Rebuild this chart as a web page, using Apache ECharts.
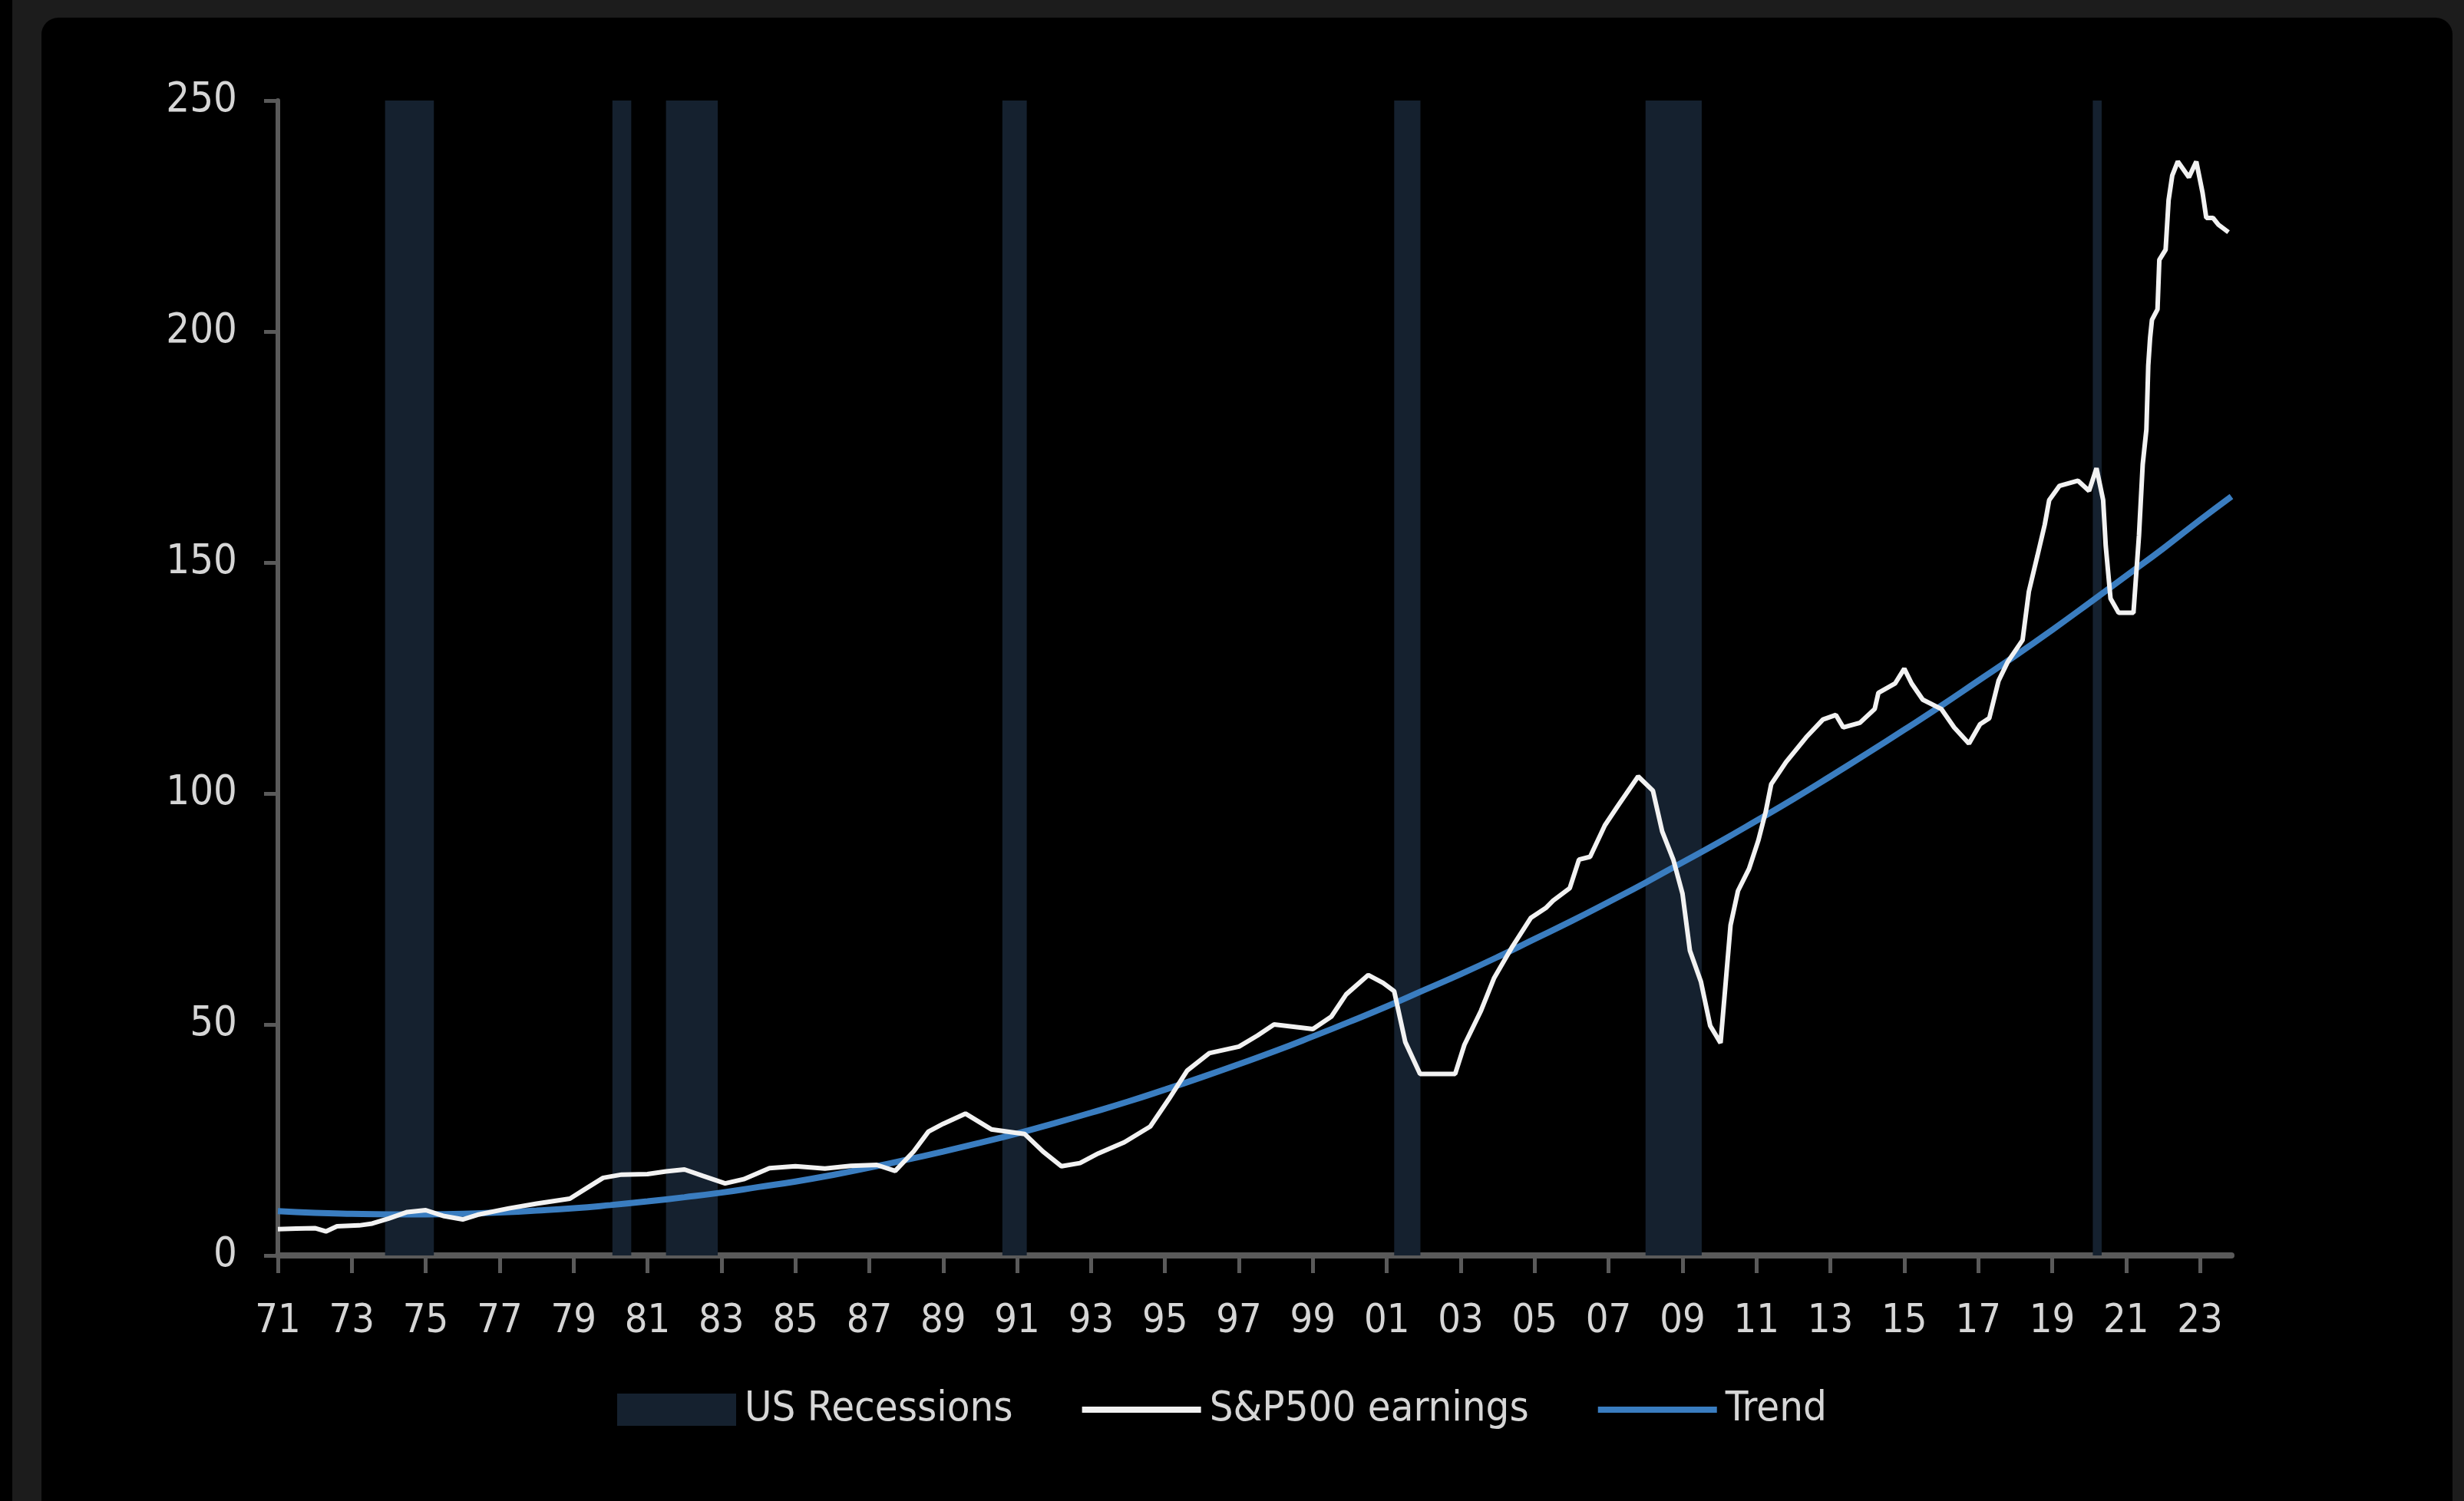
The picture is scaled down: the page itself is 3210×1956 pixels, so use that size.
<!DOCTYPE html>
<html><head><meta charset="utf-8">
<script src="https://cdn.jsdelivr.net/npm/echarts@6/dist/echarts.min.js"></script>
<style>
html,body{margin:0;padding:0;background:#000;width:3210px;height:1956px;overflow:hidden;}
#frame{position:absolute;left:16px;top:0;width:3194px;height:1956px;background:#1c1c1c;}
#panel{position:absolute;left:54px;top:23px;width:3141px;height:1933px;background:#000;border-radius:22px 22px 0 0;}
#chart{position:absolute;left:0;top:0;width:3210px;height:1956px;}
</style></head>
<body><div id="frame"></div><div id="panel"></div><div id="chart"></div>
<script>
const xTickYears = [1971,1973,1975,1977,1979,1981,1983,1985,1987,1989,1991,1993,1995,1997,1999,2001,2003,2005,2007,2009,2011,2013,2015,2017,2019,2021,2023];
const xTickLabels = ['71','73','75','77','79','81','83','85','87','89','91','93','95','97','99','01','03','05','07','09','11','13','15','17','19','21','23'];

const recessionStarts = [1973.9, 1980.05, 1981.5, 1990.6, 2001.2, 2008.0, 2020.1];
const recessionEnds   = [1975.22, 1980.56, 1982.9, 1991.26, 2001.91, 2009.52, 2020.34];

const earningsDates = [1971.0,1971.5,1972.0,1972.3,1972.6,1973.2,1973.55,1974.0,1974.5,1975.0,1975.5,1976.0,1976.4,1977.25,1978.0,1978.9,1979.3,1979.8,1980.3,1981.0,1981.5,1982.0,1982.5,1983.1,1983.6,1984.3,1985.0,1985.8,1986.5,1987.2,1987.7,1988.2,1988.6,1989.0,1989.6,1990.3,1991.2,1991.7,1992.2,1992.7,1993.2,1993.9,1994.6,1995.1,1995.6,1996.2,1997.0,1997.5,1997.95,1998.7,1999.0,1999.5,1999.9,2000.5,2000.9,2001.2,2001.5,2001.9,2002.85,2003.1,2003.55,2003.9,2004.4,2004.9,2005.3,2005.5,2005.95,2006.2,2006.5,2006.9,2007.25,2007.8,2008.2,2008.45,2008.75,2009.0,2009.2,2009.5,2009.75,2010.03,2010.17,2010.3,2010.5,2010.8,2011.05,2011.25,2011.4,2011.8,2012.35,2012.8,2013.15,2013.35,2013.8,2014.2,2014.3,2014.75,2015.0,2015.2,2015.5,2016.0,2016.35,2016.75,2017.05,2017.3,2017.55,2017.8,2018.2,2018.37,2018.6,2018.8,2018.92,2019.2,2019.7,2020.0,2020.2,2020.38,2020.45,2020.58,2020.8,2021.2,2021.35,2021.45,2021.55,2021.6,2021.65,2021.7,2021.85,2021.9,2022.07,2022.15,2022.25,2022.4,2022.7,2022.9,2023.07,2023.17,2023.35,2023.5,2023.77];
const earningsValues = [5.7,5.8,5.9,5.2,6.3,6.5,6.9,8.0,9.4,9.8,8.5,7.8,8.8,10.2,11.2,12.3,14.3,16.8,17.5,17.6,18.2,18.6,17.2,15.6,16.5,18.9,19.3,18.8,19.4,19.6,18.3,22.5,26.8,28.5,30.7,27.3,26.3,22.5,19.3,20.0,22.1,24.5,27.9,33.8,40.0,43.8,45.2,47.6,50.0,49.3,49.0,51.7,56.5,60.7,59.0,57.2,46.2,39.3,39.3,45.6,53.0,60.0,66.9,73.1,75.2,76.8,79.5,85.7,86.3,93.1,97.3,103.7,100.6,91.8,85.7,78.3,66.0,59.2,49.7,46.0,59.2,71.5,78.9,83.7,89.8,96.0,102.0,106.8,112.2,116.0,117.0,114.3,115.3,118.3,121.8,123.8,127.0,123.8,120.3,118.3,114.3,110.8,115.0,116.3,124.4,128.5,133.2,143.7,151.4,158.2,163.5,166.6,167.7,165.5,170.4,163.5,153.6,142.2,139.1,139.1,155.9,171.2,178.8,192.6,198.6,202.5,204.8,215.5,217.7,228.4,233.8,236.8,233.4,236.8,230.0,224.6,224.6,223.1,221.5];

const trendYears = [1971,1972,1973,1974,1975,1976,1977,1978,1979,1980,1981,1982,1983,1984,1985,1986,1987,1988,1989,1990,1991,1992,1993,1994,1995,1996,1997,1998,1999,2000,2001,2002,2003,2004,2005,2006,2007,2008,2009,2010,2011,2012,2013,2014,2015,2016,2017,2018,2019,2020,2021,2022,2023,2023.85];
const trendValues = [9.6,9.2,9.0,8.9,8.9,9.0,9.3,9.7,10.2,10.9,11.7,12.6,13.6,14.8,16.0,17.4,19.0,20.7,22.5,24.4,26.4,28.6,30.9,33.3,35.9,38.6,41.4,44.3,47.4,50.6,53.9,57.4,60.9,64.6,68.5,72.4,76.5,80.7,85.1,89.5,94.1,98.8,103.7,108.7,113.8,119.0,124.4,129.8,135.4,141.2,147.1,153.0,159.2,164.3];

const FONT = "'DejaVu Sans Condensed', 'Liberation Sans Narrow', 'Liberation Sans', sans-serif";
const TEXT_COLOR = '#d6d6d6';
const AXIS_COLOR = '#5a5a5a';
const REC_COLOR = '#15212f';
const WHITE = '#f2f2f2';
const BLUE = '#3a7dc0';
const LINE_ICON = 'path://M0,0H155V8H0Z';

const chart = echarts.init(document.getElementById('chart'), null, {renderer: 'canvas'});
chart.setOption({
  animation: false,
  backgroundColor: 'transparent',
  grid: {left: 362, right: 303, top: 131, bottom: 320, containLabel: false},
  legend: {
    left: 799, top: 1803,
    itemWidth: 155, itemHeight: 42, itemGap: 90,
    symbolKeepAspect: true,
    textStyle: {color: TEXT_COLOR, fontSize: 54, fontFamily: FONT, lineHeight: 58, padding: [0, 0, 0, 6]},
    data: [
      {name: 'US Recessions', icon: 'rect', itemStyle: {color: REC_COLOR}},
      {name: 'S&P500 earnings', icon: LINE_ICON, itemStyle: {color: WHITE}},
      {name: 'Trend', icon: LINE_ICON, itemStyle: {color: BLUE}}
    ]
  },
  xAxis: {
    type: 'value', min: 1971, max: 2023.85,
    splitLine: {show: false},
    axisLine: {show: true, onZero: false, lineStyle: {color: AXIS_COLOR, width: 8}},
    axisTick: {show: true, customValues: xTickYears, length: 23, lineStyle: {color: AXIS_COLOR, width: 5}},
    axisLabel: {
      customValues: xTickYears,
      formatter: function (v) { const i = xTickYears.indexOf(Math.round(v)); return i >= 0 ? xTickLabels[i] : ''; },
      color: TEXT_COLOR, fontSize: 52, fontFamily: FONT, margin: 60
    }
  },
  yAxis: {
    type: 'value', min: 0, max: 250, interval: 50,
    splitLine: {show: false},
    axisLine: {show: true, lineStyle: {color: AXIS_COLOR, width: 6}},
    axisTick: {show: true, length: 18, lineStyle: {color: AXIS_COLOR, width: 5}},
    axisLabel: {color: TEXT_COLOR, fontSize: 54, fontFamily: FONT, margin: 53}
  },
  series: [
    {
      name: 'US Recessions', type: 'line', data: [], z: 1,
      color: REC_COLOR, itemStyle: {color: REC_COLOR}, symbol: 'none',
      markArea: {
        silent: true,
        itemStyle: {color: REC_COLOR},
        data: recessionStarts.map((s, i) => [{xAxis: s}, {xAxis: recessionEnds[i]}])
      }
    },
    {
      name: 'Trend', type: 'line', z: 2, smooth: true, symbol: 'none',
      color: BLUE,
      lineStyle: {color: BLUE, width: 8},
      data: trendYears.map((y, i) => [y, trendValues[i]])
    },
    {
      name: 'S&P500 earnings', type: 'line', z: 3, symbol: 'none',
      color: WHITE,
      lineStyle: {color: WHITE, width: 6},
      data: earningsDates.map((d, i) => [d, earningsValues[i]])
    }
  ]
});
</script>
</body></html>
